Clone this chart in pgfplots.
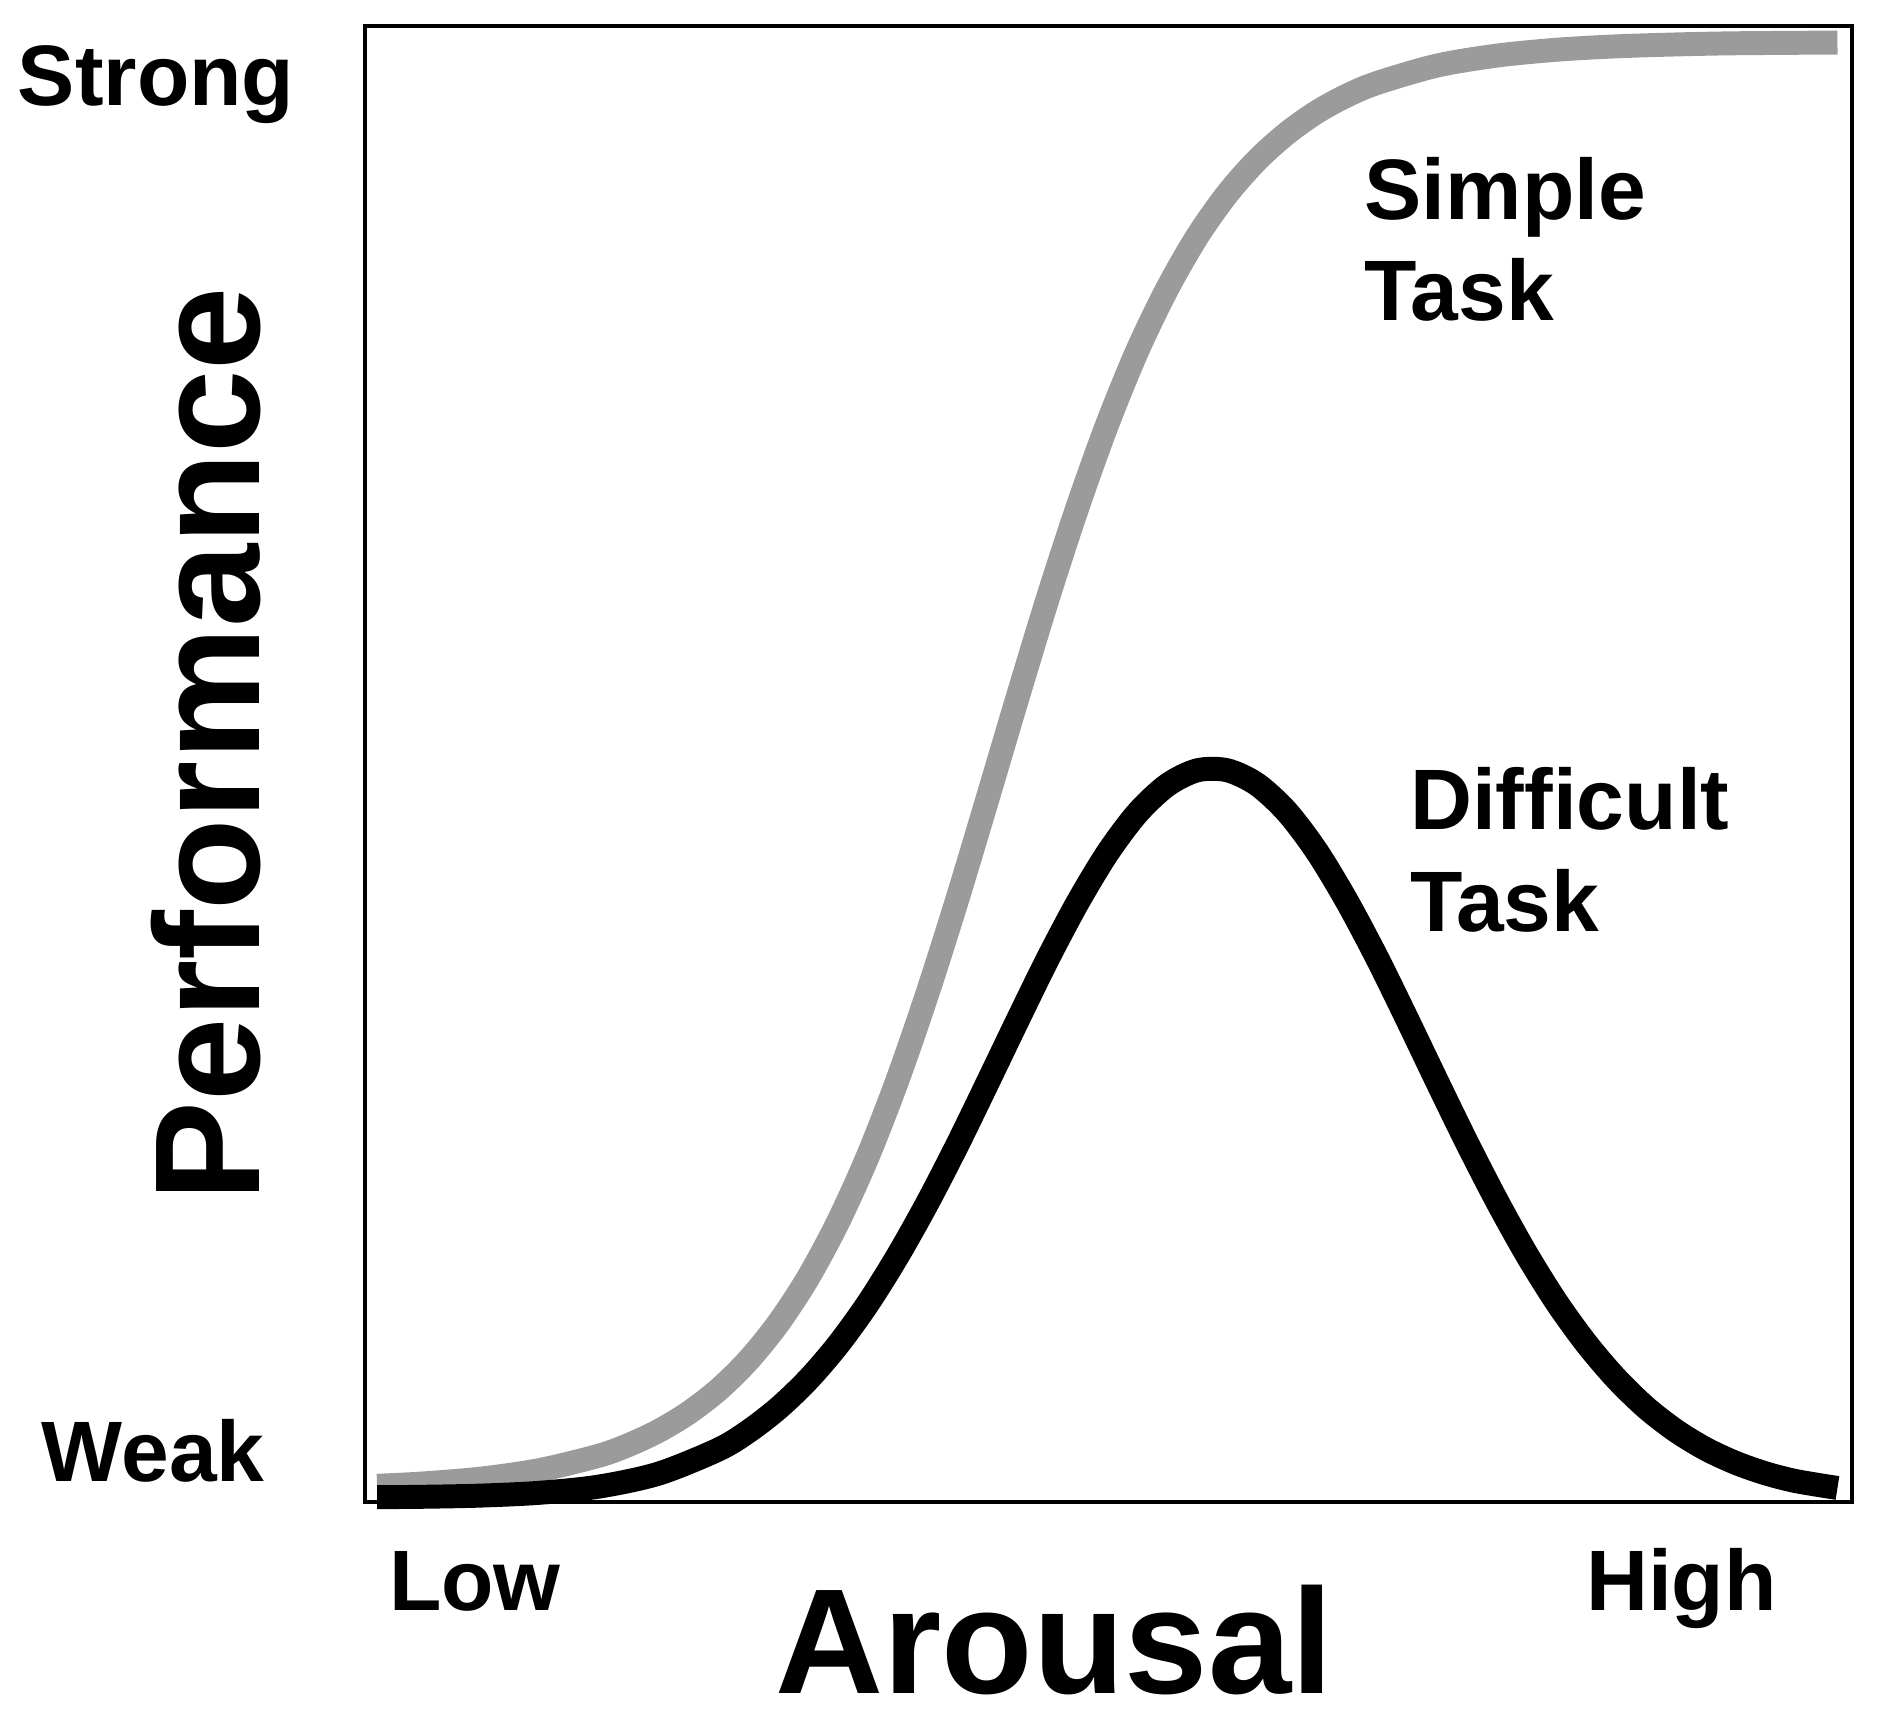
\documentclass[border=0pt]{standalone}
\usepackage{fontspec}
\setmainfont{Liberation Sans}
\usepackage{pgfplots}
\pgfplotsset{compat=1.18}
\definecolor{simplegray}{RGB}{155,155,155}

\begin{document}
\begin{tikzpicture}
% white page margins as in the reference
\path[use as bounding box] (-91.5pt,-55.8pt) rectangle (378.9pt,376.5pt);
\begin{axis}[
    at={(0,0)}, anchor=south west,
    scale only axis,
    width=372.6pt, height=369.9pt,
    xmin=0, xmax=10,
    ymin=0, ymax=10,
    axis line style={line width=1pt},
    xtick=\empty, ytick=\empty,
    clip=false,
]
% simple task
\addplot[simplegray, line width=6pt, line join=round, smooth] coordinates {
    (0.081,0.112)(0.362,0.126)(0.765,0.159)(1.167,0.217)(1.570,0.315)
    (1.771,0.388)(1.973,0.483)(2.174,0.605)(2.375,0.761)(2.576,0.960)
    (2.778,1.211)(2.979,1.520)(3.180,1.897)(3.382,2.346)
    (3.583,2.867)(3.784,3.454)(3.986,4.095)(4.187,4.769)(4.388,5.451)
    (4.589,6.116)(4.791,6.740)(4.992,7.304)(5.193,7.800)(5.395,8.222)
    (5.596,8.575)(5.797,8.862)(5.998,9.092)(6.200,9.275)(6.401,9.419)
    (6.602,9.530)(6.804,9.615)(7.206,9.733)(7.609,9.801)(8.011,9.841)
    (8.414,9.864)(8.816,9.877)(9.219,9.885)(9.903,9.890)
};
% difficult task
\addplot[black, line width=6pt, line join=round, smooth] coordinates {
    (0.081,0.035)(0.362,0.037)(0.765,0.045)(1.167,0.064)(1.570,0.106)(1.973,0.194)
    (2.375,0.357)(2.576,0.479)(2.778,0.636)(2.979,0.830)(3.180,1.066)
    (3.382,1.347)(3.583,1.671)(3.784,2.032)(3.986,2.427)(4.187,2.843)
    (4.388,3.264)(4.589,3.677)(4.791,4.061)(4.992,4.397)(5.193,4.668)
    (5.395,4.859)(5.596,4.959)(5.797,4.960)(5.998,4.865)
    (6.200,4.678)(6.401,4.410)(6.602,4.075)(6.804,3.693)(7.005,3.281)
    (7.206,2.859)(7.407,2.444)(7.609,2.048)(7.810,1.684)(8.011,1.359)
    (8.213,1.077)(8.414,0.839)(8.615,0.642)(8.816,0.485)(9.018,0.361)
    (9.219,0.267)(9.420,0.196)(9.622,0.144)(9.903,0.097)
};
\end{axis}
\begin{scope}[every node/.style={inner sep=0pt, outer sep=0pt, font=\bfseries\fontsize{21.5}{26}\selectfont}]
\node[anchor=base west] at (-87pt,350.1pt) {Strong};
\node[anchor=base west] at (-81pt,5.1pt) {Weak};
\node[anchor=base west] at (6pt,-27pt) {Low};
\node[anchor=base west] at (306pt,-27pt) {High};
\node[anchor=base west] at (250.5pt,321.6pt) {Simple};
\node[anchor=base west] at (250.5pt,296.1pt) {Task};
\node[anchor=base west] at (261.9pt,168.6pt) {Difficult};
\node[anchor=base west] at (261.9pt,143.1pt) {Task};
\node[anchor=base west, font=\bfseries\fontsize{37.5}{44}\selectfont] at (102.9pt,-48pt) {Arousal};
\node[rotate=90, font=\bfseries\fontsize{37.5}{44}\selectfont] at (-39.9pt,190pt) {Performance};
\end{scope}
\end{tikzpicture}
\end{document}
